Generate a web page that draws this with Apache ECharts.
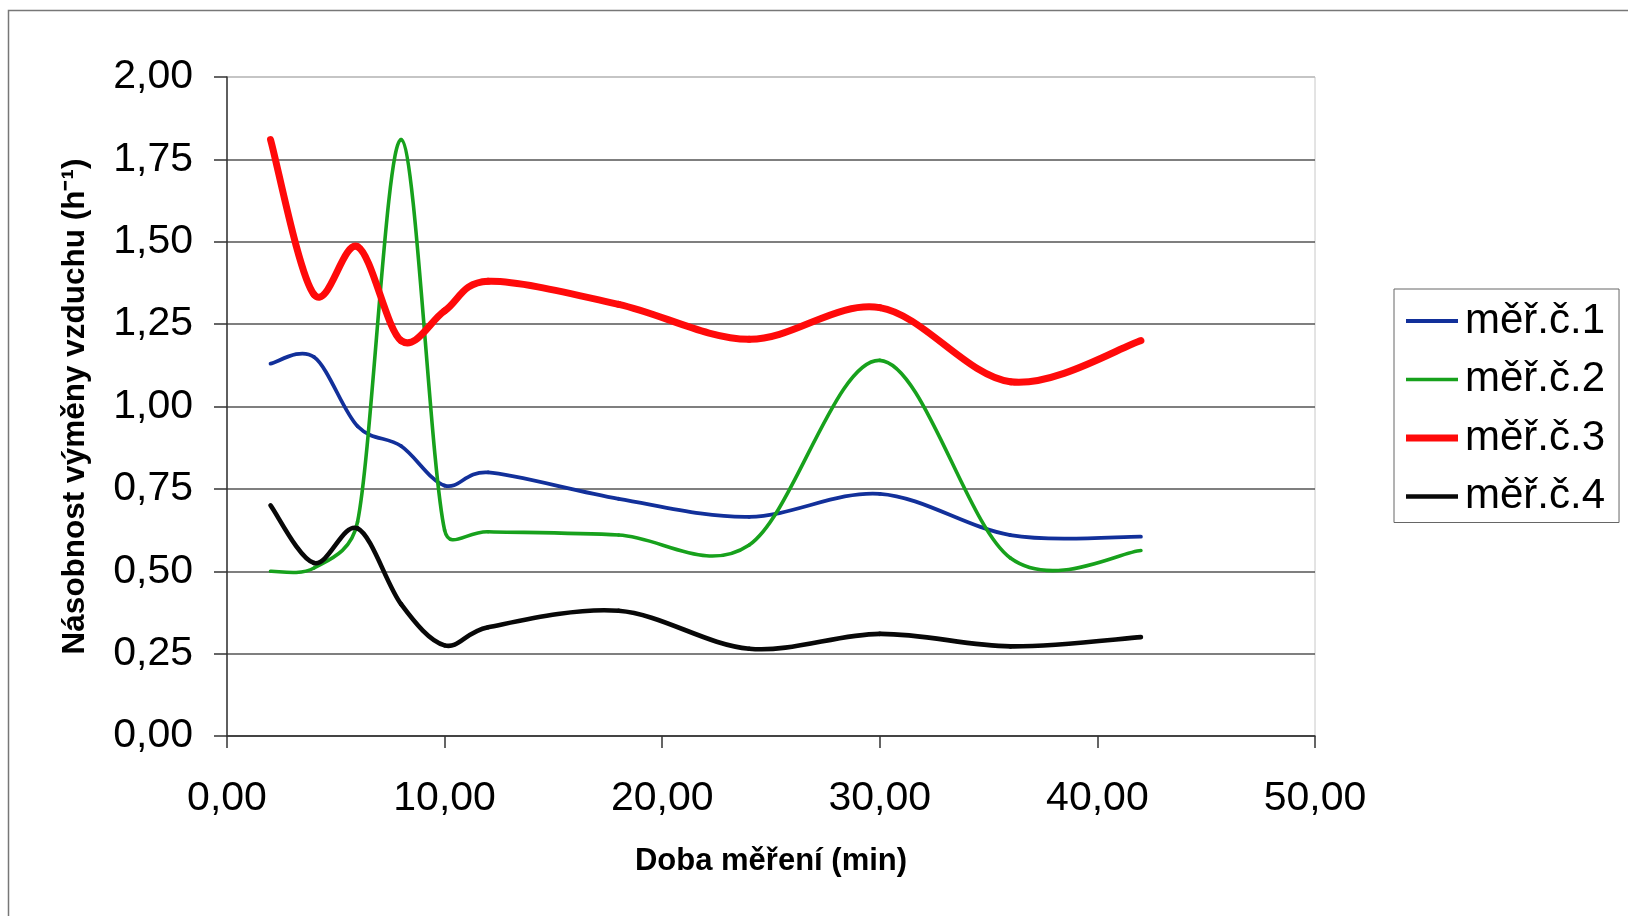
<!DOCTYPE html>
<html>
<head>
<meta charset="utf-8">
<script src="https://cdn.jsdelivr.net/npm/echarts@6/dist/echarts.min.js"></script>
<style>
html,body{margin:0;padding:0;background:#fff;}
#c{width:1628px;height:916px;}
</style>
</head>
<body>
<div id="c"></div>
<script>
const times = [2, 4, 6, 8, 10, 12, 18, 24, 30, 36, 42];
const mer1 = [1.13, 1.15, 0.94, 0.88, 0.76, 0.80, 0.72, 0.665, 0.735, 0.61, 0.605];
const mer2 = [0.50, 0.51, 0.65, 1.81, 0.625, 0.62, 0.61, 0.58, 1.14, 0.54, 0.563];
const mer3 = [1.81, 1.34, 1.485, 1.20, 1.29, 1.38, 1.31, 1.204, 1.30, 1.075, 1.20];
const mer4 = [0.70, 0.525, 0.63, 0.40, 0.275, 0.33, 0.38, 0.265, 0.31, 0.272, 0.30];
const seriesNames = ['měř.č.1', 'měř.č.2', 'měř.č.3', 'měř.č.4'];
const xTicks = [0, 10, 20, 30, 40, 50];
const yTicks = [0, 0.25, 0.5, 0.75, 1, 1.25, 1.5, 1.75, 2];

const FONT = '"Liberation Sans", Arial, sans-serif';
function pairs(ys){ return times.map((t,i)=>[t, ys[i]]); }
function fmt(v){ return v.toFixed(2).replace('.', ','); }

const styles = [
  {color:'#12309a', width:3.8},
  {color:'#17a11c', width:3.6},
  {color:'#ff0a0a', width:7},
  {color:'#080808', width:4.6}
];
const data = [mer1, mer2, mer3, mer4];

// Excel-like smoothed line: tangent arm = (next - prev)/6, capped at half the segment length
function makeRender(ys, st){
  return function(params, api){
    if (params.dataIndex !== 0) return null;
    const P = times.map((t,j)=>api.coord([t, ys[j]]));
    const n = P.length;
    const children = [];
    function arm(j, segLen){
      const a = P[Math.max(0,j-1)], b = P[Math.min(n-1,j+1)];
      let vx = (b[0]-a[0])/6, vy = (b[1]-a[1])/6;
      const L = Math.hypot(vx,vy);
      const cap = segLen/2;
      if (L > cap && L > 0){ vx *= cap/L; vy *= cap/L; }
      return [vx, vy];
    }
    for (let j=0;j<n-1;j++){
      const p0=P[j], p1=P[j+1];
      const d = Math.hypot(p1[0]-p0[0], p1[1]-p0[1]);
      const a0 = arm(j, d), a1 = arm(j+1, d);
      children.push({
        type:'bezierCurve',
        shape:{x1:p0[0], y1:p0[1], x2:p1[0], y2:p1[1],
          cpx1:p0[0]+a0[0], cpy1:p0[1]+a0[1],
          cpx2:p1[0]-a1[0], cpy2:p1[1]-a1[1]},
        style:{stroke:st.color, lineWidth:st.width, fill:null, lineCap:'round', lineJoin:'round'},
        silent:true
      });
    }
    return {type:'group', children};
  };
}

const chart = echarts.init(document.getElementById('c'), null, {renderer:'canvas'});
chart.setOption({
  backgroundColor:'#ffffff',
  animation:false,
  graphic:[{
    type:'rect', silent:true,
    shape:{x:8.5, y:10.5, width:1700, height:1000},
    style:{fill:'none', stroke:'#777', lineWidth:1.5}
  }],
  grid:{left:227, right:313, top:77, bottom:180, show:true, borderColor:'#c8c8c8', borderWidth:1, backgroundColor:'transparent'},
  legend:{
    orient:'vertical', left:1394, top:289,
    padding:[11, 14, 5, 12],
    itemGap:16.5, itemWidth:52, itemHeight:14,
    borderColor:'#666', borderWidth:1,
    textStyle:{fontFamily:FONT, fontSize:42, color:'#000', lineHeight:40, padding:[0,0,0,2]},
    data: seriesNames.map((n,i)=>({
      name:n,
      icon:'path://M0,0L52,0L52,' + styles[i].width + 'L0,' + styles[i].width + 'Z',
      itemStyle:{color:styles[i].color, borderWidth:0}
    }))
  },
  xAxis:{
    type:'value', min:0, max:50, interval:10,
    name:'Doba měření (min)', nameLocation:'middle', nameGap:110,
    nameTextStyle:{fontFamily:FONT, fontSize:31, fontWeight:'bold', color:'#000'},
    axisLine:{show:true, lineStyle:{color:'#333', width:1.5}},
    axisTick:{show:true, length:12, lineStyle:{color:'#333', width:1.5}},
    axisLabel:{fontFamily:FONT, fontSize:41, color:'#000', margin:42, formatter:fmt},
    splitLine:{show:false}
  },
  yAxis:{
    type:'value', min:0, max:2, interval:0.25,
    name:'Násobnost výměny vzduchu (h⁻¹)', nameLocation:'middle', nameGap:136,
    nameTextStyle:{fontFamily:FONT, fontSize:31.5, fontWeight:'bold', color:'#000'},
    axisLine:{show:true, lineStyle:{color:'#333', width:1.5}},
    axisTick:{show:true, length:13, lineStyle:{color:'#333', width:1.5}},
    axisLabel:{fontFamily:FONT, fontSize:41, color:'#000', margin:34, formatter:fmt},
    splitLine:{show:true, lineStyle:{color:['#555','#555','#555','#555','#555','#555','#555','#555','#bbb'], width:1.5}}
  },
  series: seriesNames.map((n,i)=>({
    name:n, type:'custom',
    data:pairs(data[i]),
    encode:{x:0, y:1},
    itemStyle:{color:styles[i].color},
    renderItem: makeRender(data[i], styles[i]),
    z: 2
  }))
});
</script>
</body>
</html>
